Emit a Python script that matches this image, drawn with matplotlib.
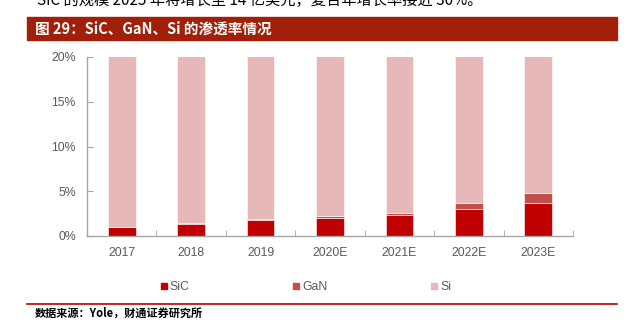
import matplotlib.pyplot as plt
import numpy as np
from matplotlib.patches import Rectangle
from matplotlib.lines import Line2D
from matplotlib.ticker import FuncFormatter, FixedLocator

plt.rcParams['font.family'] = ['Liberation Sans', 'Noto Sans CJK SC', 'DejaVu Sans']

years = ["2017", "2018", "2019", "2020E", "2021E", "2022E", "2023E"]
sic = [1.0, 1.35, 1.75, 2.0, 2.3, 3.0, 3.7]      # %
gan = [0.05, 0.08, 0.1, 0.2, 0.3, 0.7, 1.05]    # %
si = [100 - a - b for a, b in zip(sic, gan)]    # %

c_sic = "#C00000"
c_gan = "#C0504D"
c_si = "#E6B9B8"
grey = "#595959"

fig = plt.figure(figsize=(6.33, 3.27), dpi=100)

# header line (cut off at the top of the page) and title band
fig.text(37 / 633, 1.0, "SiC 的规模 2025 年将增长至 14 亿美元，复合年增长率接近 30%。",
         fontsize=11, color="black", va="center", ha="left",
         family=['Noto Sans CJK SC', 'DejaVu Sans'])
fig.patches.append(Rectangle((27 / 633, 1 - 40 / 327), 590 / 633, 23 / 327,
                             transform=fig.transFigure, color="#A21F0A", zorder=0))
fig.text(35 / 633, 1 - 29 / 327, "图 29：SiC、GaN、Si 的渗透率情况",
         fontsize=10.5, color="white", fontweight="bold", va="center", ha="left",
         family=['Noto Sans CJK SC', 'DejaVu Sans'])

ax = fig.add_axes([87 / 633, 1 - 236 / 327, 486 / 633, 179 / 327])
x = np.arange(len(years))
w = 0.4
ax.bar(x, sic, w, color=c_sic, label="SiC", edgecolor="white", linewidth=0.4)
ax.bar(x, gan, w, bottom=sic, color=c_gan, label="GaN", edgecolor="white", linewidth=0.4)
ax.bar(x, si, w, bottom=np.add(sic, gan), color=c_si, label="Si", edgecolor="white", linewidth=0.4)

ax.set_xlim(-0.5, len(years) - 0.5)
ax.set_ylim(0, 20)
ax.set_yticks([0, 5, 10, 15, 20])
ax.yaxis.set_major_formatter(FuncFormatter(lambda v, p: f"{v:.0f}%"))
ax.set_xticks(x)
ax.set_xticklabels(years)
ax.xaxis.set_minor_locator(FixedLocator(np.arange(-0.5, len(years), 1.0)))
ax.tick_params(axis="x", which="major", length=0, pad=8, labelsize=8.8, labelcolor=grey)
ax.tick_params(axis="x", which="minor", direction="in", length=4, color="#A6A6A6")
ax.tick_params(axis="y", direction="in", length=4, color="#A6A6A6", labelsize=8.8,
               labelcolor=grey, pad=8)
for s in ["top", "right"]:
    ax.spines[s].set_visible(False)
for s in ["left", "bottom"]:
    ax.spines[s].set_color("#A6A6A6")
    ax.spines[s].set_linewidth(1.0)

handles = [Line2D([], [], marker="s", linestyle="", markersize=5, color=c, label=l)
           for c, l in [(c_sic, "SiC"), (c_gan, "GaN"), (c_si, "Si")]]
leg = fig.legend(handles=handles, loc="center", bbox_to_anchor=(305 / 633, 1 - 287 / 327),
                 ncol=3, frameon=False, fontsize=8.8, handletextpad=0.1,
                 columnspacing=8.3, handlelength=0.8)
for t in leg.get_texts():
    t.set_color(grey)

# footer rule and source
fig.add_artist(Line2D([27 / 633, 617 / 633], [1 - 304 / 327] * 2,
                      transform=fig.transFigure, color="#C00000", linewidth=1.2))
fig.text(35 / 633, 1 - 313 / 327, "数据来源：Yole，财通证券研究所", fontsize=8,
         fontweight="bold", va="center", ha="left",
         family=['Noto Sans CJK SC', 'DejaVu Sans'])

fig.savefig("out.png", dpi=100)
